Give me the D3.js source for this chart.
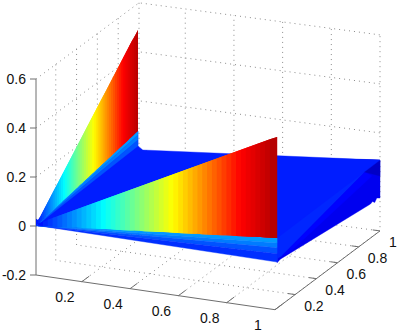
<!DOCTYPE html>
<html lang="en">
<head>
<meta charset="utf-8">
<title>Surface</title>
<style type="text/css">
  html, body { margin: 0; padding: 0; background: #fff; }
  .tick_label { font-family: "Liberation Sans", Helvetica, sans-serif; font-size: 14px; fill: #111; }
</style>
<script type="text/javascript" src="https://d3js.org/d3.v7.min.js"></script>
</head>
<body>
<script type="text/javascript">

var w = 411;
var h = 333;

// tick values
var xTicks = [0.2, 0.4, 0.6, 0.8, 1];
var yTicks = [0.2, 0.4, 0.6, 0.8, 1];
var zTicks = [-0.2, 0, 0.2, 0.4, 0.6];

// stations along both walls
var stations = [0.01,0.03,0.05,0.07,0.09,0.11,0.13,0.15,0.17,0.19,0.21,0.23,0.25,0.27,0.29,0.31,0.33,0.35,0.37,0.39,0.41,0.43,0.45,0.47,0.49,0.51,0.53,0.55,0.57,0.59,0.61,0.63,0.65,0.67,0.69,0.71,0.73,0.75,0.77,0.79,0.81,0.83,0.85,0.87,0.89,0.91,0.93,0.95,0.97,0.99];

// wall along y near 0 (front): top height, height where the fan starts
var frontTop = [0.004,0.014,0.025,0.035,0.045,0.055,0.065,0.075,0.085,0.095,0.105,0.115,0.125,0.135,0.145,0.155,0.165,0.175,0.185,0.195,0.205,0.215,0.225,0.235,0.245,0.255,0.265,0.275,0.285,0.295,0.305,0.315,0.325,0.335,0.345,0.355,0.365,0.375,0.385,0.395,0.405,0.415,0.425,0.435,0.445,0.455,0.465,0.475,0.485,0.498];
var frontLow = [-0.005,-0.003,-0.001,0,0.002,0.004,0.006,0.008,0.01,0.011,0.013,0.015,0.017,0.019,0.021,0.023,0.024,0.026,0.028,0.03,0.032,0.034,0.035,0.037,0.039,0.041,0.043,0.045,0.046,0.048,0.05,0.052,0.054,0.056,0.057,0.059,0.061,0.063,0.065,0.067,0.069,0.07,0.072,0.074,0.076,0.078,0.08,0.081,0.083,0.086];

// wall along x near 0 (left)
var leftTop = [0.03,0.018,0.025,0.035,0.045,0.055,0.065,0.075,0.085,0.095,0.105,0.115,0.125,0.135,0.145,0.155,0.165,0.175,0.185,0.195,0.205,0.215,0.225,0.235,0.245,0.255,0.265,0.275,0.285,0.295,0.305,0.315,0.325,0.335,0.345,0.355,0.365,0.375,0.385,0.395,0.405,0.415,0.425,0.435,0.445,0.455,0.465,0.473,0.482,0.492];
var leftLow = [0,0.002,0.004,0.006,0.007,0.009,0.011,0.012,0.014,0.015,0.017,0.019,0.02,0.022,0.023,0.025,0.027,0.028,0.03,0.032,0.033,0.035,0.036,0.038,0.04,0.041,0.043,0.045,0.046,0.048,0.049,0.051,0.053,0.054,0.056,0.058,0.059,0.061,0.062,0.064,0.066,0.067,0.069,0.07,0.072,0.074,0.075,0.077,0.079,0.08];

// colour bands, heights at the far end of each wall
var frontBands = [0.086, 0.066, 0.046, 0.022, -0.012];
var frontBandVal = [0.09, 0.073, 0.05, 0.03];
var leftBands = [0.08, 0.0635, 0.043, 0.019];
var leftBandVal = [0.09, 0.073, 0.05];

// flat part outline
var plateX = [0.01, 0.01, 0.01, 0.015, 0.03, 1, 1];
var plateY = [0.01, 0.99, 0.99, 0.995, 0.99, 1, 0.03];
var plateZ = [0, 0.08, 0.02, 0.012, 0.005, 0.089, 0.086];
var plateVal = 0.02;

// faces behind the right end, read in the x=1 plane
var rightFaces = [
  {val: -0.005, y: [0.03,1,1,0.97,0.95,0.93,0.91,0.06,0.03], z: [0.414,0.089,-0.066,-0.056,-0.068,-0.0575,-0.061,-0.01,-0.015]},
  {val: 0.025, y: [0.03,0.857,0.076,0.03], z: [0.381,0.087,-0.001,0.001]},
  {val: 0.005, y: [0.857,0.924,0.143,0.076], z: [0.087,0.049,-0.011,-0.001]},
  {val: -0.028, y: [0.03,1,1,0.857,0.03], z: [0.414,0.089,0.024,0.087,0.381]}
];

var svg = d3.select("body")
  .append("svg")
  .attr("width", w)
  .attr("height", h)
  .style("display", "block");

var xs = d3.scaleLinear().domain([0.01, 1]).range([0, 1]);
var ys = d3.scaleLinear().domain([0.01, 1]).range([0, 1]);
var zs = d3.scaleLinear().domain([-0.2, 0.6]).range([49, -147]);

// jet, clipped to the range of the surface
var color = d3.scaleLinear()
  .domain([-0.067, 0.004, 0.146, 0.288, 0.429, 0.5])
  .range(["#000080", "#0000ff", "#00ffff", "#ffff00", "#ff0000", "#b40000"])
  .clamp(true);

// axes box is a very slight perspective, so there is a small cross term
var project = function(x, y, z) {
  var a = xs(x), b = ys(y);
  return [36 + 239*a + 103*b + 2*a*b,
          226 + 34.7*a - 76.2*b - 2.6*a*b + zs(z)];
};

var line = d3.line();
var poly = function(pts) { return line(pts) + "Z"; };

// grid
var grid = svg.append("g")
  .attr("fill", "none")
  .attr("stroke", "#8c8c8c")
  .attr("stroke-width", 1)
  .attr("stroke-dasharray", "1 4");

var gridLines = [];
zTicks.forEach(function(z) {
  if (z == -0.2) return;
  gridLines.push([project(0.01, 0.01, z), project(0.01, 1, z), project(1, 1, z)]);
});
yTicks.forEach(function(y) {
  gridLines.push([project(0.01, y, 0.6), project(0.01, y, -0.2), project(1, y, -0.2)]);
});
xTicks.forEach(function(x) {
  gridLines.push([project(x, 0.01, -0.2), project(x, 1, -0.2), project(x, 1, 0.6)]);
});

grid.selectAll("path")
  .data(gridLines)
  .enter()
  .append("path")
  .attr("d", function(d) { return line(d); });

// axes
var axes = svg.append("g")
  .attr("fill", "none")
  .attr("stroke", "#6e6e6e")
  .attr("stroke-width", 1);

axes.append("path").attr("d", line([project(0.01, 0.01, 0.6), project(0.01, 0.01, -0.2)]));
axes.append("path").attr("d", line([project(0.01, 0.01, -0.2), project(1, 0.01, -0.2)]));
axes.append("path").attr("d", line([project(1, 0.01, -0.2), project(1, 1, -0.2)]));

axes.selectAll("path.ztick")
  .data(zTicks)
  .enter()
  .append("path")
  .attr("class", "ztick")
  .attr("d", function(d) {
    var p = project(0.01, 0.01, d);
    return line([p, [p[0] - 6, p[1]]]);
  });

axes.selectAll("path.xtick")
  .data(xTicks)
  .enter()
  .append("path")
  .attr("class", "xtick")
  .attr("d", function(d) {
    return line([project(d, 0.01, -0.2), project(d, 0.08, -0.2)]);
  });

axes.selectAll("path.ytick")
  .data(yTicks)
  .enter()
  .append("path")
  .attr("class", "ytick")
  .attr("d", function(d) {
    return line([project(1, d, -0.2), project(0.97, d, -0.2)]);
  });

// tick labels
svg.selectAll("text.zlab")
  .data(zTicks)
  .enter()
  .append("text")
  .attr("class", "tick_label zlab")
  .attr("text-anchor", "end")
  .attr("x", function(d) { return project(0.01, 0.01, d)[0] - 10; })
  .attr("y", function(d) { return project(0.01, 0.01, d)[1] + 5; })
  .text(function(d) { return d; });

svg.selectAll("text.xlab")
  .data(xTicks)
  .enter()
  .append("text")
  .attr("class", "tick_label xlab")
  .attr("text-anchor", "middle")
  .attr("x", function(d) { return project(d, 0.01, -0.2)[0] - 17; })
  .attr("y", function(d) { return project(d, 0.01, -0.2)[1] + 20.5; })
  .text(function(d) { return d; });

svg.selectAll("text.ylab")
  .data(yTicks)
  .enter()
  .append("text")
  .attr("class", "tick_label ylab")
  .attr("text-anchor", "start")
  .attr("x", function(d) { return project(1, d, -0.2)[0] + 9; })
  .attr("y", function(d) { return project(1, d, -0.2)[1] + 16; })
  .text(function(d) { return d; });

// surface, back to front
var surf = svg.append("g");

var fill = function(pts, val) {
  surf.append("path")
    .attr("d", poly(pts))
    .attr("fill", color(val))
    .attr("stroke", color(val))
    .attr("stroke-width", 0.4);
};

// a strip runs on under its right neighbour so no blue shows in the seams
var strip = function(pts, val) {
  surf.append("path")
    .attr("d", poly(pts))
    .attr("fill", color(val));
};

rightFaces.forEach(function(f) {
  fill(f.y.map(function(y, i) { return project(1, y, f.z[i]); }), f.val);
});

fill(plateX.map(function(x, i) { return project(x, plateY[i], plateZ[i]); }), plateVal);

// fan bands of the left wall
leftBandVal.forEach(function(v, i) {
  fill([project(0.01, 0.01, 0), project(0.01, 0.99, leftBands[i]), project(0.01, 0.99, leftBands[i + 1])], v);
});

// left wall strips
stations.slice(0, -1).forEach(function(y, i) {
  var j = Math.min(i + 2, stations.length - 1);
  var pts = [project(0.01, y, leftLow[i]), project(0.01, y, leftTop[i])];
  d3.range(i + 1, j + 1).forEach(function(k) { pts.push(project(0.01, stations[k], leftTop[k])); });
  d3.range(j, i, -1).forEach(function(k) { pts.push(project(0.01, stations[k], leftLow[k])); });
  strip(pts, leftTop[i + 1]);
});

// front wall bands
frontBandVal.forEach(function(v, i) {
  fill([project(0.01, 0.03, -0.005), project(1, 0.03, frontBands[i]), project(1, 0.03, frontBands[i + 1])], v);
});

// front wall strips, the last station is stretched to the end of the wall
var frontEnd = stations.slice(0, -1).concat([1]);
frontEnd.slice(0, -1).forEach(function(x, i) {
  var j = Math.min(i + 2, frontEnd.length - 1);
  var pts = [project(x, 0.03, frontLow[i]), project(x, 0.03, frontTop[i])];
  d3.range(i + 1, j + 1).forEach(function(k) { pts.push(project(frontEnd[k], 0.03, frontTop[k])); });
  d3.range(j, i, -1).forEach(function(k) { pts.push(project(frontEnd[k], 0.03, frontLow[k])); });
  strip(pts, frontTop[i + 1]);
});

</script>
</body>
</html>
